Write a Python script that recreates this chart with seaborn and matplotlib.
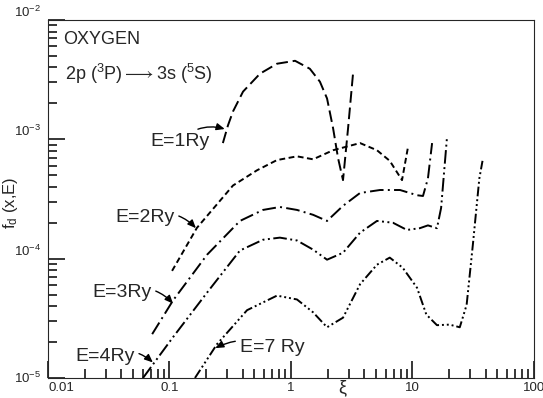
import numpy as np
import pandas as pd
import matplotlib
matplotlib.use("Agg")
import matplotlib.pyplot as plt
import matplotlib.transforms as mtransforms
import seaborn as sns

# ---- data (x = xi, y = f_d(x,E)) ----
e1_x = [0.275, 0.303, 0.333, 0.403, 0.556, 0.767, 1.08, 1.43, 1.73, 1.98, 2.22, 2.44, 2.68, 2.95, 3.24]
e1_y = [9.3e-4, 1.31e-3, 1.71e-3, 2.51e-3, 3.55e-3, 4.3e-3, 4.55e-3, 3.9e-3, 3.04e-3, 2.2e-3, 1.24e-3, 6.95e-4, 4.55e-4, 1.24e-3, 3.55e-3]

e2_x = [0.105, 0.168, 0.333, 0.525, 0.767, 1.12, 1.52, 2.22, 3.7, 5.1, 6.5, 8.2, 9.2]
e2_y = [7.9e-5, 1.81e-4, 4.1e-4, 5.5e-4, 6.7e-4, 7.2e-4, 6.8e-4, 8.1e-4, 9.3e-4, 8.1e-4, 6.6e-4, 4.55e-4, 8.7e-4]

e3_x = [0.072, 0.107, 0.204, 0.38, 0.588, 0.81, 1.12, 1.52, 1.98, 2.68, 3.7, 5.4, 7.9, 10.9, 12.2, 13.4, 14.5]
e3_y = [2.33e-5, 4.47e-5, 1.08e-4, 2.07e-4, 2.56e-4, 2.71e-4, 2.56e-4, 2.33e-4, 2.07e-4, 2.77e-4, 3.55e-4, 3.76e-4, 3.76e-4, 3.4e-4, 3.35e-4, 4.7e-4, 9.3e-4]

e4_x = [0.0605, 0.107, 0.204, 0.38, 0.588, 0.81, 1.12, 1.52, 1.98, 2.68, 3.7, 5.1, 6.9, 9.0, 11.5, 13.4, 15.9, 17.2, 19.2]
e4_y = [1.0e-5, 2.2e-5, 5.2e-5, 1.17e-4, 1.44e-4, 1.5e-4, 1.42e-4, 1.19e-4, 9.8e-5, 1.12e-4, 1.65e-4, 2.07e-4, 2.0e-4, 1.74e-4, 1.8e-4, 1.9e-4, 1.8e-4, 2.66e-4, 1.02e-3]

e7_x = [0.162, 0.246, 0.435, 0.767, 1.12, 1.52, 1.98, 2.68, 3.7, 5.1, 6.5, 8.3, 10.9, 13.0, 15.9, 20.2, 24.5, 27.9, 31.4, 35.5, 37.7]
e7_y = [1.0e-5, 1.92e-5, 3.7e-5, 4.9e-5, 4.55e-5, 3.55e-5, 2.66e-5, 3.2e-5, 6.1e-5, 8.9e-5, 1.02e-4, 8.4e-5, 5.7e-5, 3.4e-5, 2.77e-5, 2.8e-5, 2.66e-5, 4.1e-5, 1.31e-4, 4.7e-4, 6.6e-4]

x_ticks = [0.01, 0.1, 1, 10, 100]
x_tick_labels = ["0.01", "0.1", "1", "10", "100"]
y_ticks = [1e-5, 1e-4, 1e-3, 1e-2]
y_tick_labels = ["10$^{-5}$", "10$^{-4}$", "10$^{-3}$", "10$^{-2}$"]

series = [
    ("E=1Ry", e1_x, e1_y, (0, (6, 2.5))),
    ("E=2Ry", e2_x, e2_y, (0, (3, 1.8))),
    ("E=3Ry", e3_x, e3_y, (0, (7, 2.2, 1.0, 2.2))),
    ("E=4Ry", e4_x, e4_y, (0, (7, 1.8, 1.0, 1.8, 1.0, 1.8))),
    ("E=7Ry", e7_x, e7_y, (0, (5, 1.5, 1, 1.5, 1, 1.5, 1, 1.5))),
]

sns.set_style("ticks")
NARROW = ["Liberation Sans Narrow", "Liberation Sans", "DejaVu Sans"]
plt.rcParams["font.family"] = NARROW
plt.rcParams["mathtext.fontset"] = "custom"
plt.rcParams["mathtext.rm"] = "Liberation Sans"
plt.rcParams["mathtext.it"] = "Liberation Sans:italic"
plt.rcParams["mathtext.bf"] = "Liberation Sans:bold"

fig = plt.figure(figsize=(5.43, 3.98), dpi=100)
ax = fig.add_axes([0.0884, 0.0503, 0.8950, 0.8995])

for name, xs, ys, ls in series:
    df = pd.DataFrame({"x": xs, "y": ys})
    sns.lineplot(data=df, x="x", y="y", ax=ax, color="black", lw=1.4,
                 sort=False, estimator=None, linestyle=ls)

ax.set_xscale("log")
ax.set_yscale("log")
ax.set_xlim(0.01, 100)
ax.set_ylim(1e-5, 1e-2)

ax.set_xticks(x_ticks)
ax.set_xticklabels(x_tick_labels, fontsize=9.5, family=["Liberation Sans"])
ax.set_yticks(y_ticks)
ax.set_yticklabels(y_tick_labels, fontsize=9.5, family=["Liberation Sans"])
ax.xaxis.set_minor_locator(matplotlib.ticker.LogLocator(base=10, subs=np.arange(2, 10)))
ax.yaxis.set_minor_locator(matplotlib.ticker.LogLocator(base=10, subs=np.arange(2, 10)))
ax.xaxis.set_minor_formatter(matplotlib.ticker.NullFormatter())
ax.yaxis.set_minor_formatter(matplotlib.ticker.NullFormatter())
ax.tick_params(which="both", direction="in", top=False, right=False, width=1.1, color="black")
ax.tick_params(which="major", length=12)
ax.tick_params(which="minor", length=6.5)
ax.tick_params(axis="x", which="major", pad=3)
ax.tick_params(axis="y", which="major", pad=5)
for lbl in ax.get_yticklabels():
    lbl.set_va("bottom")
for lbl in ax.get_xticklabels():
    lbl.set_ha("left")
    lbl.set_x(lbl.get_position()[0])
ax.get_xticklabels()[0].set_ha("left")
for i, lbl in enumerate(ax.get_xticklabels()):
    lbl.set_ha("center")
ax.get_xticklabels()[0].set_ha("left")
ax.get_yticklabels()[0].set_va("center")

ax.set_xlabel("")
ax.set_ylabel(r"f$_{\mathregular{d}}$ (x,E)", fontsize=12)
ax.yaxis.set_label_coords(-0.058, 0.49)
trans = mtransforms.blended_transform_factory(ax.transData, ax.transAxes)
ax.text(2.63, -0.027, "ξ", transform=trans, fontsize=13, ha="center", va="center",
        family=["Liberation Sans", "DejaVu Sans"])

ax.text(0.031, 0.945, "OXYGEN", transform=ax.transAxes, fontsize=13, va="center", ha="left",
        family=["Liberation Sans"])
ax.text(0.035, 0.85, r"2p ($^{\mathregular{3}}$P)$\longrightarrow$3s ($^{\mathregular{5}}$S)",
        transform=ax.transAxes, fontsize=13, va="center", ha="left")

labels = [
    ("E=1Ry", (0.069, 9.6e-4), (0.285, 1.22e-3), -0.3),
    ("E=2Ry", (0.0356, 2.2e-4), (0.165, 1.8e-4), -0.35),
    ("E=3Ry", (0.023, 5.2e-5), (0.107, 4.2e-5), -0.35),
    ("E=4Ry", (0.0167, 1.5e-5), (0.073, 1.35e-5), -0.35),
]
for txt, tpos, apos, rad in labels:
    ax.annotate(txt, xy=apos, xytext=tpos, fontsize=14, ha="left", va="center",
                arrowprops=dict(arrowstyle="-|>,head_length=0.35,head_width=0.15", color="black", lw=1.0,
                                connectionstyle=f"arc3,rad={rad}", shrinkA=1, shrinkB=0))
ax.annotate("E=7 Ry", xy=(0.238, 1.78e-5), xytext=(0.38, 1.81e-5), fontsize=14, ha="left", va="center",
            arrowprops=dict(arrowstyle="-|>,head_length=0.35,head_width=0.15", color="black", lw=1.0,
                            connectionstyle="arc3,rad=0.25", shrinkA=1, shrinkB=0))

fig.savefig("out.png", dpi=100)
